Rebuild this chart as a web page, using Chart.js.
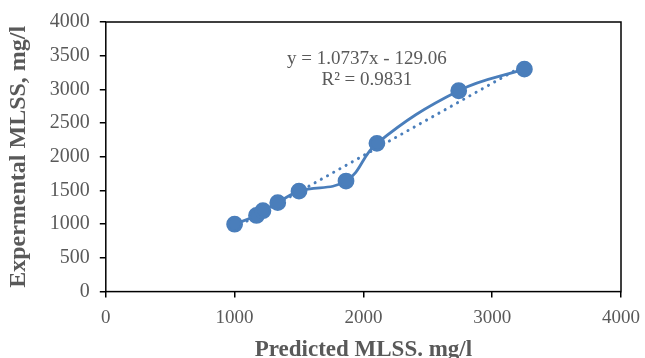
<!DOCTYPE html>
<html>
<head>
<meta charset="utf-8">
<script src="https://cdn.jsdelivr.net/npm/chart.js@4/dist/chart.umd.min.js"></script>
<style>
  html, body { margin: 0; padding: 0; background: #fff; }
  #wrap { width: 645px; height: 358px; }
</style>
</head>
<body>
<div id="wrap"><canvas id="mlss"></canvas></div>
<script>
// values
const predicted = [1000, 1170, 1220, 1335, 1500, 1865, 2105, 2740, 3250];
const measured = [1000, 1130, 1200, 1320, 1490, 1640, 2200, 2980, 3300];
const trendX = [1000, 3250];
const trendY = [945, 3360];
const axisTicks = [0, 1000, 2000, 3000, 4000];
const eqText = ["y = 1.0737x - 129.06", "R\u00b2 = 0.9831"];

const blue = "#4a7ebb";
const grey = "#595959";
const serif = "'Liberation Serif', 'Times New Roman', serif";

const boxPlugin = {
  id: "boxPlugin",
  afterDraw(chart) {
    const a = chart.chartArea;
    const ctx = chart.ctx;
    ctx.save();
    ctx.strokeStyle = "#000";
    ctx.lineWidth = 1.5;
    ctx.strokeRect(a.left, a.top, a.right - a.left, a.bottom - a.top);
    // trendline equation
    const xs = chart.scales.x, ys = chart.scales.y;
    ctx.fillStyle = grey;
    ctx.font = "19px " + serif;
    ctx.textAlign = "center";
    ctx.textBaseline = "middle";
    ctx.fillText(eqText[0], xs.getPixelForValue(2027), ys.getPixelForValue(3454));
    ctx.fillText(eqText[1], xs.getPixelForValue(2027), ys.getPixelForValue(3144));
    ctx.restore();
  }
};

new Chart(document.getElementById("mlss"), {
  type: "scatter",
  data: {
    datasets: [
      {
        label: "MLSS",
        data: predicted.map((x, i) => ({ x: x, y: measured[i] })),
        showLine: true,
        tension: 0.4,
        borderColor: blue,
        backgroundColor: blue,
        borderWidth: 2.8,
        pointRadius: 7,
        pointHoverRadius: 7,
        order: 1,
      },
      {
        label: "Linear",
        data: trendX.map((x, i) => ({ x: x, y: trendY[i] })),
        showLine: true,
        borderColor: blue,
        borderWidth: 3,
        borderDash: [0.1, 7],
        borderCapStyle: "round",
        pointRadius: 0,
        order: 2,
      },
    ],
  },
  options: {
    responsive: true,
    maintainAspectRatio: false,
    animation: false,
    layout: { padding: { top: 10, right: 24, left: 4, bottom: -6 } },
    plugins: {
      legend: { display: false },
      tooltip: { enabled: false },
    },
    scales: {
      x: {
        type: "linear",
        min: 0,
        max: 4000,
        afterBuildTicks: (s) => { s.ticks = axisTicks.map((v) => ({ value: v })); },
        afterFit: (s) => { s.paddingRight = 0; },
        grid: { drawOnChartArea: false, color: "#000", tickLength: 6, lineWidth: 1.5 },
        border: { display: false },
        ticks: {
          color: grey,
          font: { family: serif, size: 19 },
          padding: 9,
          callback: (v) => String(v),
        },
        title: {
          display: true,
          text: "Predicted MLSS. mg/l",
          color: grey,
          font: { family: serif, size: 23, weight: "bold" },
          padding: { top: -2, bottom: 0 },
        },
      },
      y: {
        type: "linear",
        min: 0,
        max: 4000,
        ticks: {
          stepSize: 500,
          color: grey,
          font: { family: serif, size: 20 },
          padding: 10,
          callback: (v) => String(v),
        },
        grid: { drawOnChartArea: false, color: "#000", tickLength: 6, lineWidth: 1.5 },
        border: { display: false },
        title: {
          display: true,
          text: "Expermental MLSS, mg/l",
          color: grey,
          font: { family: serif, size: 24, weight: "bold" },
          padding: { top: 0, bottom: 7 },
        },
      },
    },
  },
  plugins: [boxPlugin],
});
</script>
</body>
</html>
